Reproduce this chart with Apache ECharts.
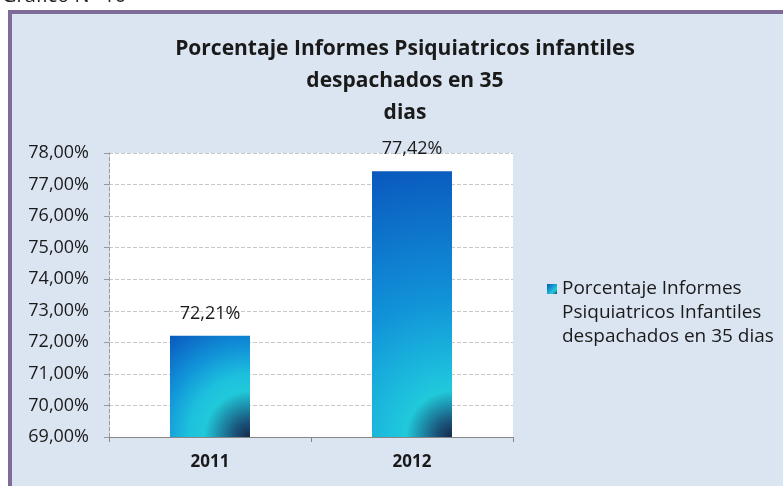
<!DOCTYPE html>
<html><head><meta charset="utf-8">
<script src="https://cdn.jsdelivr.net/npm/echarts@6/dist/echarts.min.js"></script>
<style>html,body{margin:0;padding:0;background:#fff}#c{width:783px;height:486px}</style>
</head><body><div id="c"></div>
<script>
const categories = ['2011', '2012'];
const values = [72.21, 77.42];
const seriesName = 'Porcentaje Informes\nPsiquiatricos Infantiles\ndespachados en 35 dias';
const titleText = 'Porcentaje Informes Psiquiatricos infantiles\ndespachados en 35\ndias';
const yMin = 69, yMax = 78, yStep = 1;

const FONT = '"Open Sans", Lato, sans-serif';
const fmt = v => v.toFixed(2).replace('.', ',') + '%';

const plotH = 284, barW = 80;
function barStyle(v) {
  const h = (v - yMin) / (yMax - yMin) * plotH;
  const mn = Math.min(barW, h);
  const diag = Math.sqrt(barW * barW + h * h);
  const r = diag / mn;
  const p = px => Math.min(px / diag, 1);
  return {
    color: {
      type: 'radial', x: 1, y: 1, r: r,
      colorStops: [
        { offset: 0, color: '#14294a' },
        { offset: p(16), color: '#1a557c' },
        { offset: p(46), color: '#20c9da' },
        { offset: p(62), color: '#1dc0dd' },
        { offset: Math.max(p(90), 0.5), color: '#1192d8' },
        { offset: 1, color: '#0a58bd' }
      ]
    }
  };
}

const chart = echarts.init(document.getElementById('c'));
chart.setOption({
  backgroundColor: '#ffffff',
  animation: false,
  graphic: [
    { type: 'rect', shape: { x: 10, y: 12, width: 790, height: 490 },
      style: { fill: '#dbe5f1', stroke: '#7e6b98', lineWidth: 4 }, z: -10 },
    { type: 'text', left: 2, top: -14, style: { text: 'Gráfico N° 10', font: '20px ' + FONT, fill: '#222' }, z: -11 }
  ],
  title: {
    text: titleText, left: 400, top: 28, textAlign: 'center',
    textStyle: { fontFamily: FONT, fontSize: 21, fontWeight: 'bold', color: '#1a1a1a', lineHeight: 32 }
  },
  legend: {
    left: 542, top: 272, orient: 'vertical', itemWidth: 10, itemHeight: 72,
    icon: 'path://M0,0L0,0M0,7L10,7L10,17L0,17ZM0,72L0,72',
    textStyle: { fontFamily: FONT, fontSize: 19, color: '#1a1a1a', lineHeight: 24 },
    data: [{ name: seriesName, itemStyle: { color: { type: 'linear', x: 0, y: 0.1, x2: 1, y2: 0.24, colorStops: [{ offset: 0, color: '#0a57bc' }, { offset: 0.7, color: '#21cddb' }, { offset: 1, color: '#173a5e' }] } } }]
  },
  grid: { left: 109, right: 270, top: 153, bottom: 49, show: true, backgroundColor: '#ffffff', borderWidth: 0 },
  xAxis: {
    type: 'category', data: categories,
    axisLine: { lineStyle: { color: '#868686', width: 1 } },
    axisTick: { show: true, length: 5, lineStyle: { color: '#868686' } },
    axisLabel: { fontFamily: FONT, fontSize: 17, fontWeight: 'bold', color: '#1a1a1a', margin: 17 }
  },
  yAxis: {
    type: 'value', min: yMin, max: yMax, interval: yStep,
    axisLine: { show: true, lineStyle: { color: '#9a9a9a', type: 'dashed' } },
    axisTick: { show: true, length: 5, lineStyle: { color: '#9a9a9a' } },
    splitLine: { lineStyle: { color: '#c8c8c8', type: 'dashed' } },
    axisLabel: { fontFamily: FONT, fontSize: 18, color: '#1a1a1a', margin: 20, formatter: v => fmt(v) }
  },
  series: [{
    name: seriesName, type: 'bar', barWidth: barW,
    data: values.map(v => ({ value: v, itemStyle: barStyle(v) })),
    label: { show: true, position: 'top', distance: 13, fontFamily: FONT, fontSize: 18, color: '#1a1a1a', formatter: p => fmt(p.value) }
  }]
});
</script></body></html>
